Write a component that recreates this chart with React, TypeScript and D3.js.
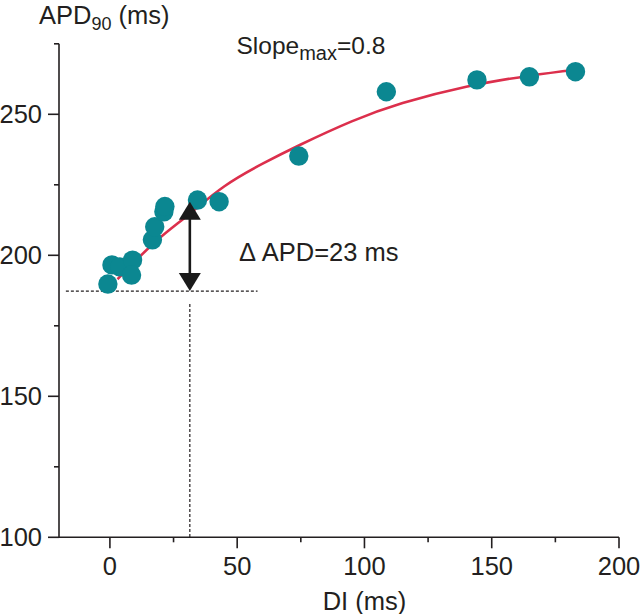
import React from "react";
import * as d3 from "d3";

const pointDI = [-0.8, 0.8, 3.9, 8.9, 8.5, 16.7, 17.6, 21.2, 21.6, 34.4, 42.9, 74.2, 108.6, 144.2, 164.8, 182.9];
const pointAPD = [189.8, 196.6, 195.9, 198.3, 193, 205.5, 210.1, 215.4, 217.3, 219.6, 219, 235.2, 258, 262.2, 263.3, 265.1];

const fitDI = [3, 10, 20, 31, 45, 60, 75, 95, 115, 140, 165, 183];
const fitAPD = [191.5, 198, 206.5, 214.5, 224.5, 232.5, 239.3, 247.5, 254, 259.8, 263.7, 265.8];

const xMajor = [0, 50, 100, 150, 200];
const xMinor = [25, 75, 125, 175];
const yMajor = [100, 150, 200, 250];
const yMinor = [125, 175, 225, 275];

const baselineAPD = 187.3;
const peakAPD = 219;
const arrowDI = 31.4;
const dashLeftDI = -17.3;
const dashRightDI = 58;

const W = 640;
const H = 614;
const FONT = "'Liberation Sans', Arial, Helvetica, sans-serif";

export default function App() {
  const x = d3.scaleLinear().domain([-20, 200]).range([59, 619]);
  const y = d3.scaleLinear().domain([100, 275]).range([537.3, 43.8]);

  const line = d3
    .line<number>()
    .x((_, i) => x(fitDI[i]))
    .y((d) => y(d))
    .curve(d3.curveNatural);

  const ax = x(arrowDI);
  const yTop = y(peakAPD);
  const yBot = y(baselineAPD);
  const headH = 18;
  const headW = 11;
  const axisColor = "#231f20";

  return (
    <svg
      width={W}
      height={H}
      style={{ position: "absolute", left: 0, top: 0, background: "#fff" }}
      fontFamily={FONT}
    >
      {/* axes */}
      <line x1={x(-20)} x2={x(200)} y1={y(100)} y2={y(100)} stroke={axisColor} strokeWidth={1.6} />
      <line x1={x(-20)} x2={x(-20)} y1={y(100)} y2={y(275)} stroke={axisColor} strokeWidth={1.6} />
      {xMajor.map((v) => (
        <g key={"xm" + v}>
          <line x1={x(v)} x2={x(v)} y1={y(100)} y2={y(100) + 11} stroke={axisColor} strokeWidth={1.6} />
          <text x={x(v)} y={575} textAnchor="middle" fontSize={25.5} fill={axisColor}>
            {v}
          </text>
        </g>
      ))}
      {xMinor.map((v) => (
        <line key={"xn" + v} x1={x(v)} x2={x(v)} y1={y(100)} y2={y(100) + 5} stroke={axisColor} strokeWidth={1.6} />
      ))}
      {yMajor.map((v) => (
        <g key={"ym" + v}>
          <line x1={x(-20) - 11} x2={x(-20)} y1={y(v)} y2={y(v)} stroke={axisColor} strokeWidth={1.6} />
          <text x={42} y={y(v) + 9} textAnchor="end" fontSize={25.5} fill={axisColor}>
            {v}
          </text>
        </g>
      ))}
      {yMinor.map((v) => (
        <line key={"yn" + v} x1={x(-20) - 5} x2={x(-20)} y1={y(v)} y2={y(v)} stroke={axisColor} strokeWidth={1.6} />
      ))}

      {/* axis titles */}
      <text x={39} y={23.5} fontSize={25.5} fill={axisColor}>
        APD
        <tspan fontSize={18} dy={6.5}>90</tspan>
        <tspan dy={-6.5}> (ms)</tspan>
      </text>
      <text x={x(100)} y={610} textAnchor="middle" fontSize={25.5} fill={axisColor}>
        DI (ms)
      </text>

      {/* dashed guides */}
      <line
        x1={x(dashLeftDI)}
        x2={x(dashRightDI)}
        y1={yBot}
        y2={yBot}
        stroke={axisColor}
        strokeWidth={1.2}
        strokeDasharray="3,2"
      />
      <line
        x1={ax}
        x2={ax}
        y1={yBot + 13}
        y2={y(100)}
        stroke={axisColor}
        strokeWidth={1.2}
        strokeDasharray="3,2"
      />

      {/* fit curve */}
      <path d={line(fitAPD) || ""} fill="none" stroke="#dc2f4c" strokeWidth={2.6} />

      {/* points */}
      {pointDI.map((d, i) => (
        <circle key={"p" + i} cx={x(d)} cy={y(pointAPD[i])} r={9.7} fill="#0b8791" />
      ))}

      {/* arrow */}
      <line x1={ax} x2={ax} y1={yTop + headH - 1} y2={yBot - headH + 1} stroke="#1a1a1a" strokeWidth={2.6} />
      <polygon
        points={`${ax},${yTop} ${ax - headW},${yTop + headH} ${ax + headW},${yTop + headH}`}
        fill="#1a1a1a"
      />
      <polygon
        points={`${ax},${yBot} ${ax - headW},${yBot - headH} ${ax + headW},${yBot - headH}`}
        fill="#1a1a1a"
      />

      {/* annotations */}
      <text x={239} y={261} fontSize={25.5} fill={axisColor}>
        Δ APD=23 ms
      </text>
      <text x={236.5} y={53.5} fontSize={24.5} fill={axisColor}>
        Slope
        <tspan fontSize={20} dy={6.5}>max</tspan>
        <tspan dy={-6.5}>=0.8</tspan>
      </text>
    </svg>
  );
}
